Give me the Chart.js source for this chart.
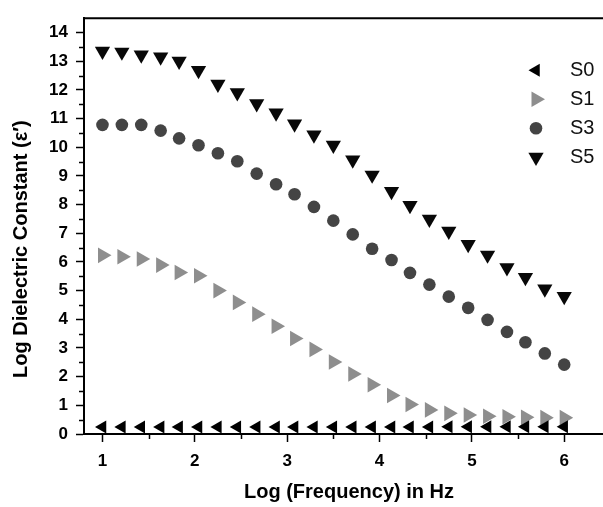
<!DOCTYPE html>
<html>
<head>
<meta charset="utf-8">
<title>Log Dielectric Constant vs Log Frequency</title>
<script src="https://cdn.jsdelivr.net/npm/chart.js@4"></script>
<style>
  html, body { margin: 0; padding: 0; background: #fff; overflow: hidden; }
</style>
</head>
<body>
<canvas id="chart" width="603" height="507"></canvas>
<script>
// Log (Frequency) values, shared by every sample
const logFreq = [1.00, 1.21, 1.42, 1.63, 1.83, 2.04, 2.25, 2.46, 2.67, 2.88, 3.08, 3.29, 3.50,
                 3.71, 3.92, 4.13, 4.33, 4.54, 4.75, 4.96, 5.17, 5.38, 5.58, 5.79, 6.00];

// Log dielectric constant for each sample
const s0 = [0.24, 0.24, 0.24, 0.24, 0.24, 0.24, 0.24, 0.24, 0.24, 0.24, 0.24, 0.24, 0.24,
            0.24, 0.24, 0.24, 0.24, 0.24, 0.25, 0.25, 0.25, 0.25, 0.25, 0.25, 0.25];
const s1 = [6.23, 6.18, 6.10, 5.89, 5.63, 5.52, 5.00, 4.59, 4.18, 3.76, 3.33, 2.95, 2.51,
            2.09, 1.72, 1.34, 1.03, 0.84, 0.72, 0.66, 0.62, 0.60, 0.58, 0.57, 0.57];
const s3 = [10.78, 10.78, 10.78, 10.58, 10.31, 10.07, 9.79, 9.51, 9.08, 8.71, 8.36, 7.92, 7.44,
            6.96, 6.46, 6.07, 5.62, 5.21, 4.79, 4.40, 3.98, 3.56, 3.20, 2.81, 2.42];
const s5 = [13.35, 13.32, 13.22, 13.15, 13.00, 12.68, 12.20, 11.90, 11.52, 11.20, 10.81, 10.43, 10.07,
            9.56, 9.03, 8.46, 7.97, 7.49, 7.07, 6.61, 6.24, 5.80, 5.46, 5.06, 4.80];

// Tick labels
const xTickValues = [1, 2, 3, 4, 5, 6];
const yTickValues = [0, 1, 2, 3, 4, 5, 6, 7, 8, 9, 10, 11, 12, 13, 14];
const xMinorTicks = [1.5, 2.5, 3.5, 4.5, 5.5];
const yMinorTicks = [0.5, 1.5, 2.5, 3.5, 4.5, 5.5, 6.5, 7.5, 8.5, 9.5, 10.5, 11.5, 12.5, 13.5];

const xTitle = 'Log (Frequency) in Hz';
const yTitle = 'Log Dielectric Constant (ε′)';

const FONT = '"Liberation Sans", Arial, Helvetica, sans-serif';

const toPoints = values => logFreq.map((x, i) => ({ x: x, y: values[i] }));

// Top frame line and the small half-step ticks
const frameAndMinorTicks = {
    id: 'frameAndMinorTicks',
    afterDraw(chart) {
        const { ctx, chartArea, scales } = chart;
        ctx.save();
        ctx.strokeStyle = '#000';
        ctx.lineWidth = 2;
        ctx.beginPath();
        ctx.moveTo(chartArea.left - 1, chartArea.top);
        ctx.lineTo(chartArea.right, chartArea.top);
        ctx.stroke();

        ctx.lineWidth = 1.5;
        ctx.beginPath();
        xMinorTicks.forEach(v => {
            const px = Math.round(scales.x.getPixelForValue(v)) + 0.5;
            ctx.moveTo(px, chartArea.bottom);
            ctx.lineTo(px, chartArea.bottom + 5);
        });
        yMinorTicks.forEach(v => {
            const py = Math.round(scales.y.getPixelForValue(v)) + 0.5;
            ctx.moveTo(chartArea.left - 5, py);
            ctx.lineTo(chartArea.left, py);
        });
        ctx.stroke();
        ctx.restore();
    }
};

// Axis titles
const axisTitles = {
    id: 'axisTitles',
    afterDraw(chart) {
        const { ctx, chartArea } = chart;
        ctx.save();
        ctx.fillStyle = '#000';
        ctx.font = 'bold 20px ' + FONT;
        ctx.textAlign = 'center';
        ctx.textBaseline = 'middle';
        ctx.fillText(xTitle, chartArea.left + 265, chartArea.bottom + 58);
        ctx.translate(21, chartArea.top + 231);
        ctx.rotate(-Math.PI / 2);
        ctx.fillText(yTitle, 0, 0);
        ctx.restore();
    }
};

// Legend in the top right corner of the plot
const sampleLegend = {
    id: 'sampleLegend',
    afterDatasetsDraw(chart) {
        const { ctx, chartArea } = chart;
        ctx.save();
        chart.data.datasets.forEach((ds, i) => {
            const cy = chartArea.top + 52 + i * 29;
            const cx = chartArea.right - 67;
            ctx.fillStyle = ds.pointBackgroundColor;
            ctx.strokeStyle = ds.pointBackgroundColor;
            Chart.helpers.drawPoint(ctx, {
                pointStyle: ds.pointStyle,
                rotation: ds.pointRotation,
                radius: ds.pointRadius,
                borderWidth: 0
            }, cx, cy);
            ctx.fillStyle = '#111';
            ctx.font = '20px ' + FONT;
            ctx.textAlign = 'left';
            ctx.textBaseline = 'middle';
            ctx.fillText(ds.label, chartArea.right - 33, cy);
        });
        ctx.restore();
    }
};

new Chart(document.getElementById('chart').getContext('2d'), {
    type: 'scatter',
    data: {
        datasets: [
            { label: 'S0', data: toPoints(s0), pointStyle: 'triangle', pointRotation: 270, pointRadius: 7.5,
              pointBackgroundColor: '#000', pointBorderWidth: 0 },
            { label: 'S1', data: toPoints(s1), pointStyle: 'triangle', pointRotation: 90, pointRadius: 9,
              pointBackgroundColor: '#8e8e8e', pointBorderWidth: 0 },
            { label: 'S3', data: toPoints(s3), pointStyle: 'circle', pointRotation: 0, pointRadius: 6.3,
              pointBackgroundColor: '#444', pointBorderWidth: 0 },
            { label: 'S5', data: toPoints(s5), pointStyle: 'triangle', pointRotation: 180, pointRadius: 8.8,
              pointBackgroundColor: '#080808', pointBorderWidth: 0 }
        ]
    },
    options: {
        responsive: false,
        animation: false,
        events: [],
        layout: { autoPadding: false, padding: { top: 7, left: 0, right: 0, bottom: 0 } },
        plugins: {
            legend: { display: false },
            tooltip: { enabled: false }
        },
        scales: {
            x: {
                type: 'linear',
                min: 0.8,
                max: 6.42,
                afterBuildTicks: scale => { scale.ticks = xTickValues.map(v => ({ value: v })); },
                afterFit: scale => { scale.height = 73; },
                border: { display: true, color: '#000', width: 2 },
                grid: { drawOnChartArea: false, drawTicks: true, tickLength: 8, tickWidth: 1.5, tickColor: '#000' },
                ticks: { color: '#000', padding: 9, font: { family: FONT, size: 17, weight: 'bold' } }
            },
            y: {
                type: 'linear',
                min: 0,
                max: 14.5,
                afterBuildTicks: scale => { scale.ticks = yTickValues.map(v => ({ value: v })); },
                afterFit: scale => { scale.width = 84; },
                border: { display: true, color: '#000', width: 2 },
                grid: { drawOnChartArea: false, drawTicks: true, tickLength: 8, tickWidth: 1.5, tickColor: '#000' },
                ticks: { color: '#000', padding: 8, font: { family: FONT, size: 17, weight: 'bold' } }
            }
        }
    },
    plugins: [frameAndMinorTicks, axisTitles, sampleLegend]
});
</script>
</body>
</html>
